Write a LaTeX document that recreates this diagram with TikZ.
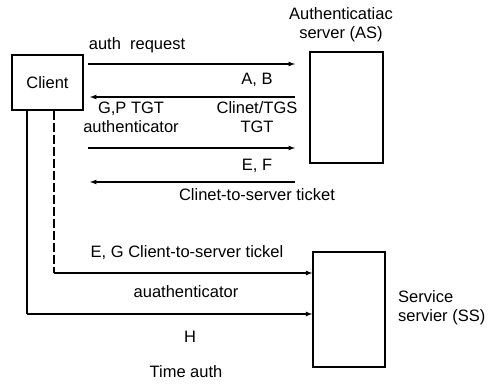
\documentclass[tikz,border=0pt]{standalone}
\usepackage{fontspec}
\setmainfont{Liberation Sans}
\usetikzlibrary{positioning}

\begin{document}
\begin{tikzpicture}
		[x=1pt,y=-1pt,
		font=\fontsize{16.5}{19}\selectfont,
		box/.style ={rectangle, draw=black, line width=1.4pt, inner sep=0pt},
		msg/.style ={draw, line width=1.2pt, -latex},
		life/.style ={draw, line width=1.2pt},
		lbl/.style ={inner sep=0pt, align=center},
		]
		\useasboundingbox (0,0) rectangle (490,383);

		% the three parties
		\draw (47.5,82.5) node[box, minimum width=71pt, minimum height=55pt] (C) {Client};
		\draw (346.5,107.5) node[box, minimum width=73pt, minimum height=111pt] (AS) {};
		\draw (349,309.5) node[box, minimum width=72pt, minimum height=115pt] (SS) {};
		\draw (341,25) node[lbl] (ASname) {Authenticatiac\\server (AS)};
		\draw (398,308) node[lbl, anchor=west, align=left] (SSname) {Service\\servier (SS)};

		% message ends on the AS side
		\coordinate (a1) at (88,64);  \coordinate (b1) at (295,64);
		\coordinate (a2) at (90,97);  \coordinate (b2) at (295,97);
		\coordinate (a3) at (88,148); \coordinate (b3) at (295,148);
		\coordinate (a4) at (90,182); \coordinate (b4) at (295,182);

		\path[msg] (a1) -- (b1);
		\path[msg] (b2) -- (a2);
		\path[msg] (a3) -- (b3);
		\path[msg] (b4) -- (a4);

		\draw (137,45) node[lbl] (m1) {auth\ \ request};
		\draw (257,80) node[lbl] (m2) {A, B};
		\draw (131,117.5) node[lbl] (m3) {G,P TGT\\authenticator};
		\draw (257,117.5) node[lbl] (m4) {Clinet/TGS\\TGT};
		\draw (257,166) node[lbl] (m5) {E, F};
		\draw (257,195) node[lbl] (m6) {Clinet-to-server ticket};

		% lifelines down to the service server
		\coordinate (dturn) at (54,273);
		\coordinate (sturn) at (27,314);
		\path[life, dashed, dash pattern=on 9pt off 3pt] (C.south -| dturn) -- (dturn);
		\path[msg] (dturn) -- (dturn -| SS.west);
		\path[life] (C.south -| sturn) -- (sturn);
		\path[msg] (sturn) -- (sturn -| SS.west);

		\draw (187,253) node[lbl] (m7) {E, G Client-to-server tickel};
		\draw (186,292) node[lbl] (m8) {auathenticator};
		\draw (190,337) node[lbl] (m9) {H};
		\draw (186,372) node[lbl] (m10) {Time auth};
	\end{tikzpicture}
\end{document}
